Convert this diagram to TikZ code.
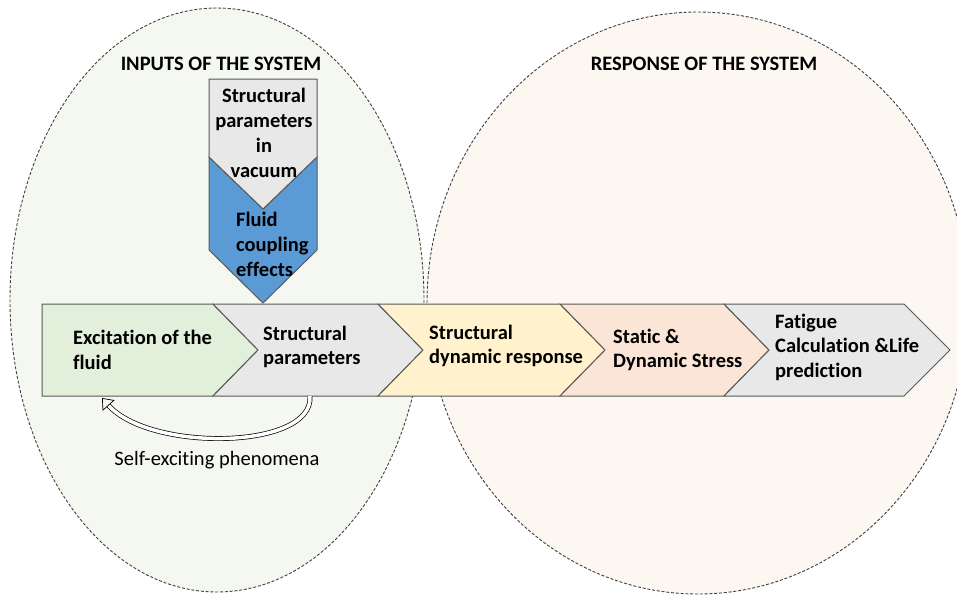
\documentclass[tikz,border=0pt]{standalone}
\usepackage{fontspec}
\setmainfont{Carlito}[Ligatures={NoCommon}]
\usetikzlibrary{arrows.meta}
\definecolor{leftfill}{HTML}{F5F8F0}
\definecolor{rightfill}{HTML}{FCF7F1}
\definecolor{ellline}{HTML}{404040}
\definecolor{barline}{HTML}{595959}
\definecolor{cgreen}{HTML}{E2EFDA}
\definecolor{cgray}{HTML}{E8E8E8}
\definecolor{cyellow}{HTML}{FFF2CC}
\definecolor{cpink}{HTML}{FBE5D6}
\definecolor{cblue}{HTML}{5B9BD5}
\tikzset{
  region/.style={draw=ellline, line width=0.9pt, dash pattern=on 3pt off 1.8pt},
  titletext/.style={font=\bfseries\fontsize{20.5}{23}\selectfont, inner sep=0pt},
  chev/.style={draw=barline, line width=1pt, line join=miter},
  chevtext/.style={font=\bfseries\fontsize{20.5}{24.5}\selectfont, align=left, anchor=west, inner sep=0pt},
  inputtext/.style={font=\bfseries\fontsize{20.5}{25}\selectfont, inner sep=0pt},
  loopline/.style={draw=black, line width=0.7pt, double=white, double distance=3.5pt},
  plaintext/.style={font=\fontsize{20.5}{25}\selectfont, inner sep=0pt}
}
\begin{document}
\begin{tikzpicture}[x=1pt,y=-1pt]
\useasboundingbox (0,0) rectangle (957,598);
\clip (0,0) rectangle (957,598);
\fill[white] (0,0) rectangle (957,598);
% regions
\path[region, fill=leftfill] (217,300) ellipse [x radius=207, y radius=292];
\path[region, fill=rightfill] (698,303) ellipse [x radius=271, y radius=291];
\node[titletext] (tin) at (221,64) {INPUTS OF THE SYSTEM};
\node[titletext] (tout) at (704,64) {RESPONSE OF THE SYSTEM};
% vertical input chevron
\path[chev, fill=cblue] (209,157) -- (209,250) -- (263,303) -- (317,250) -- (317,157) -- (263,209) -- cycle;
\path[chev, fill=cgray] (209,79) -- (317,79) -- (317,157) -- (263,209) -- (209,157) -- cycle;
\node[inputtext, align=center] (vac) at (264,133) {Structural\\parameters\\in\\vacuum};
\node[inputtext, align=left, anchor=west] (fce) at (236,244) {Fluid\\coupling\\effects};
% horizontal chevrons
\path[chev, fill=cgreen] (42,304) -- (213,304) -- (258,350) -- (213,396) -- (42,396) -- cycle;
\path[chev, fill=cgray] (213,304) -- (378,304) -- (423,350) -- (378,396) -- (213,396) -- (258,350) -- cycle;
\path[chev, fill=cyellow] (378,304) -- (560,304) -- (605,350) -- (560,396) -- (378,396) -- (423,350) -- cycle;
\path[chev, fill=cpink] (560,304) -- (724,304) -- (769,350) -- (724,396) -- (560,396) -- (605,350) -- cycle;
\path[chev, fill=cgray] (724,304) -- (904,304) -- (950,350) -- (904,396) -- (724,396) -- (769,350) -- cycle;
\node[chevtext] (exc) at (73,350) {Excitation of the\\fluid};
\node[chevtext] (sp) at (263,347) {Structural\\parameters};
\node[chevtext] (sdr) at (429,346) {Structural\\dynamic response};
\node[chevtext] (sds) at (613,350) {Static \&\\Dynamic Stress};
\node[chevtext] (fat) at (775,347) {Fatigue\\Calculation \&Life\\prediction};
% self-exciting loop
\coordinate (loopstart) at (310,396);
\coordinate (loopend) at (102,398);
\draw[loopline, -{Triangle[open, length=10pt, width=16pt, line width=0.7pt]}]
  (loopstart) .. controls (314,450) and (150,452) .. (loopend);
\node[plaintext] (self) at (217,460) {Self-exciting phenomena};
\end{tikzpicture}
\end{document}
